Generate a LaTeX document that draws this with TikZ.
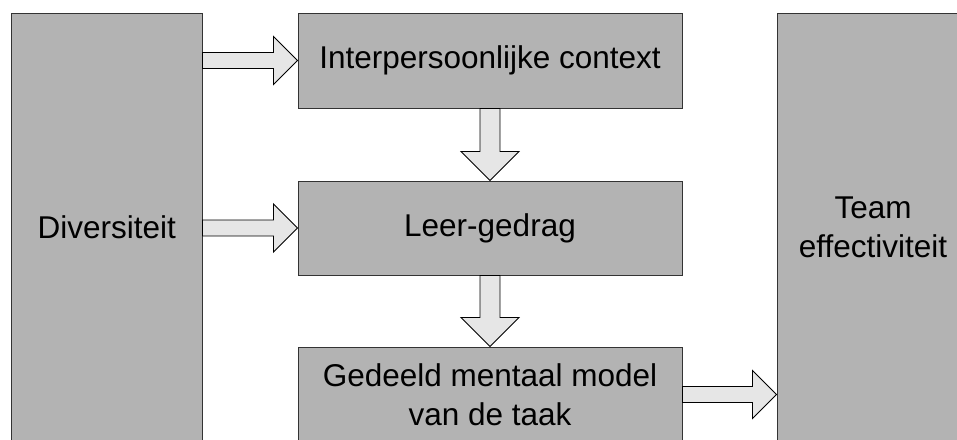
\documentclass[tikz,border=0pt]{standalone}
\usepackage{fontspec}
\setmainfont{Liberation Sans}
\usetikzlibrary{calc}
\definecolor{boxgray}{HTML}{B3B3B3}
\definecolor{arrowgray}{HTML}{E6E6E6}
\tikzset{
  box/.style={draw=black!80, line width=1pt, fill=boxgray, inner sep=0pt,
    align=center, font=\fontsize{31.5}{39.3}\selectfont},
  barrow/.style={draw=black, line width=0.9pt, fill=arrowgray, line join=miter}
}
\newcommand\myharrow[2]{\draw[barrow] let \p1=(#1), \p2=(#2) in
  (\x1,\y2+8pt) -- (\x2-24pt,\y2+8pt) -- (\x2-24pt,\y2+24pt) -- (\x2,\y2) --
  (\x2-24pt,\y2-24pt) -- (\x2-24pt,\y2-8pt) -- (\x1,\y2-8pt) -- cycle;}
\newcommand\myvarrow[2]{\draw[barrow] let \p1=(#1), \p2=(#2) in
  (\x2-10pt,\y1) -- (\x2-10pt,\y2+29pt) -- (\x2-29pt,\y2+29pt) -- (\x2,\y2) --
  (\x2+29pt,\y2+29pt) -- (\x2+10pt,\y2+29pt) -- (\x2+10pt,\y1) -- cycle;}
\begin{document}
\begin{tikzpicture}[x=1pt,y=-1pt]
\useasboundingbox (0,0) rectangle (957,439);
\clip (0,0) rectangle (957,439);
\node[box, minimum width=190.5pt, minimum height=428pt] (div) at (106.75,227) {Diversiteit};
\node[box, minimum width=384pt, minimum height=95pt] (ipc) at (490,60.5) {Interpersoonlijke context};
\node[box, minimum width=384pt, minimum height=94pt] (leer) at (490,228) {Leer-gedrag};
\node[box, minimum width=384pt, minimum height=95pt] (model) at (490,394.5) {Gedeeld mentaal model\\van de taak};
\node[box, minimum width=192pt, minimum height=428pt] (team) at (873,227) {Team\\effectiviteit};
\myharrow{div.east}{ipc.west}
\myharrow{div.east}{leer.west}
\myharrow{model.east}{team.west |- model.east}
\myvarrow{ipc.south}{leer.north}
\myvarrow{leer.south}{model.north}
\end{tikzpicture}
\end{document}
